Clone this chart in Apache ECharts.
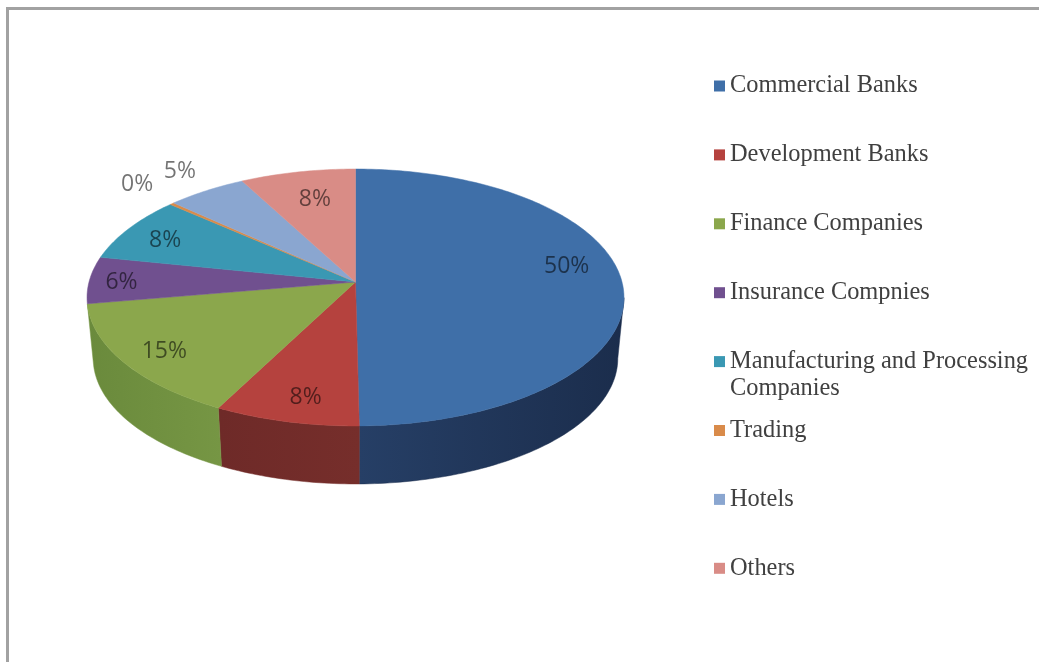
<!DOCTYPE html>
<html>
<head>
<meta charset="utf-8">
<style>html,body{margin:0;padding:0;background:#fff}#chart{width:1039px;height:662px}</style>
<script src="https://cdn.jsdelivr.net/npm/echarts@6/dist/echarts.min.js"></script>
</head>
<body>
<div id="chart"></div>
<script>
// Share of investment by sector, in percent
const categories = ['Commercial Banks', 'Development Banks', 'Finance Companies', 'Insurance Compnies',
  'Manufacturing and Processing\nCompanies', 'Trading', 'Hotels', 'Others'];
const shares = [49.8, 7.8, 14.7, 5.9, 8.3, 0.3, 5.4, 7.8];

// Slice colours: top face, then the left and right ends of the side wall
const topColors = ['#3f6fa8', '#b5423e', '#8ba74c', '#70508f', '#3a98b3', '#d98b4a', '#8aa6d0', '#d98c86'];
const wallLeft = ['#263f66', '#6e2a28', '#6a8a3c', '#4c3563', '#266577', '#94592c', '#5d7391', '#935b59'];
const wallRight = ['#1b2d4c', '#762e2b', '#769644', '#4c3563', '#266577', '#94592c', '#5d7391', '#935b59'];

// Label placement per slice: turn from the mid-angle in degrees, and reach as a fraction of the radius
const labelTurn = [-9, -1.6, -0.7, -0.4, -1.5, 1.7, 1.1, 1.1];
const labelReach = [0.816, 0.831, 0.842, 0.879, 0.821, 1.25, 1.234, 0.74];

// Tilted disc: projective view of a circle around its centre point
const disc = {cx: 355.5, cy: 282, radius: 266.5, depth: 126.6, tilt: 0.1206, drop: 61.3, footScale: 0.977};
// Part of the rim whose side wall faces the viewer, in degrees clockwise from the top
const wallRange = [97, 260.2];
const fontBody = '"Open Sans", "Noto Sans", sans-serif';
const legendLine = 27, legendFirst = 86, legendStep = 68.9;

function project(deg, reach, lowered) {
  const a = deg * Math.PI / 180;
  const u = Math.sin(a) * reach, v = -Math.cos(a) * reach;
  const w = 1 - disc.tilt * v;
  const s = lowered ? disc.footScale : 1;
  return [disc.cx + s * disc.radius * u / w,
          disc.cy + (lowered ? disc.drop : 0) + s * disc.depth * v / w];
}

function arc(from, to, lowered) {
  const pts = [];
  const n = Math.max(2, Math.ceil(to - from));
  for (let i = 0; i <= n; i++) pts.push(project(from + (to - from) * i / n, 1, lowered));
  return pts;
}

const total = shares.reduce((a, b) => a + b, 0);
const startOf = shares.map((_, i) => shares.slice(0, i).reduce((a, b) => a + b, 0) / total * 360);

function renderSlice(index) {
  return function (params, api) {
    const value = api.value(0);
    const from = startOf[index], to = from + value / total * 360;
    const children = [];
    const wFrom = Math.max(from, wallRange[0]), wTo = Math.min(to, wallRange[1]);
    if (wTo > wFrom) {
      const upper = arc(wFrom, wTo, false), lower = arc(wFrom, wTo, true).reverse();
      children.push({
        type: 'polygon', z2: 0,
        shape: {points: upper.concat(lower)},
        style: {
          fill: new echarts.graphic.LinearGradient(0, 0, 1, 0, [
            {offset: 0, color: wallLeft[index]}, {offset: 1, color: wallRight[index]}
          ]),
          stroke: wallRight[index], lineWidth: 0.5
        }
      });
    }
    children.push({
      type: 'polygon', z2: 1,
      shape: {points: [[disc.cx, disc.cy]].concat(arc(from, to, false))},
      style: {fill: topColors[index], stroke: topColors[index], lineWidth: 0.5}
    });
    const at = project((from + to) / 2 + labelTurn[index], labelReach[index], false);
    children.push({
      type: 'text', z2: 2, x: at[0], y: at[1] + 1,
      style: {
        text: Math.round(value / total * 100) + '%',
        fill: 'rgba(0,0,0,0.55)', font: '23px ' + fontBody,
        align: 'center', verticalAlign: 'middle'
      }
    });
    return {type: 'group', children: children};
  };
}

const chart = echarts.init(document.getElementById('chart'), null, {renderer: 'canvas'});
chart.setOption({
  animation: false,
  backgroundColor: '#ffffff',
  tooltip: {show: false},
  legend: categories.map((name, i) => {
    // A blank first line keeps the marker level with the first line of a wrapped name
    const twoLines = name.indexOf('\n') >= 0;
    const rowHeight = twoLines ? legendLine * 3 : legendLine;
    return {
      data: [{name: name, icon: 'rect'}],
      orient: 'vertical', left: 714,
      top: legendFirst + i * legendStep - rowHeight / 2,
      padding: 0, itemWidth: 11, itemHeight: 11, selectedMode: false,
      formatter: twoLines ? '\n{name}' : '{name}',
      textStyle: {
        fontFamily: '"Liberation Serif", serif', fontSize: 24.4, color: '#404040',
        lineHeight: legendLine
      }
    };
  }),
  graphic: [
    {type: 'polyline', shape: {points: [[7.5, 662], [7.5, 8.5], [1039, 8.5]]},
     style: {stroke: '#a2a2a2', lineWidth: 3, fill: null}, silent: true}
  ],
  series: categories.map((name, i) => ({
    type: 'custom', name: name, coordinateSystem: 'none',
    itemStyle: {color: topColors[i]}, silent: true,
    data: [[shares[i]]], renderItem: renderSlice(i)
  }))
});
</script>
</body>
</html>
